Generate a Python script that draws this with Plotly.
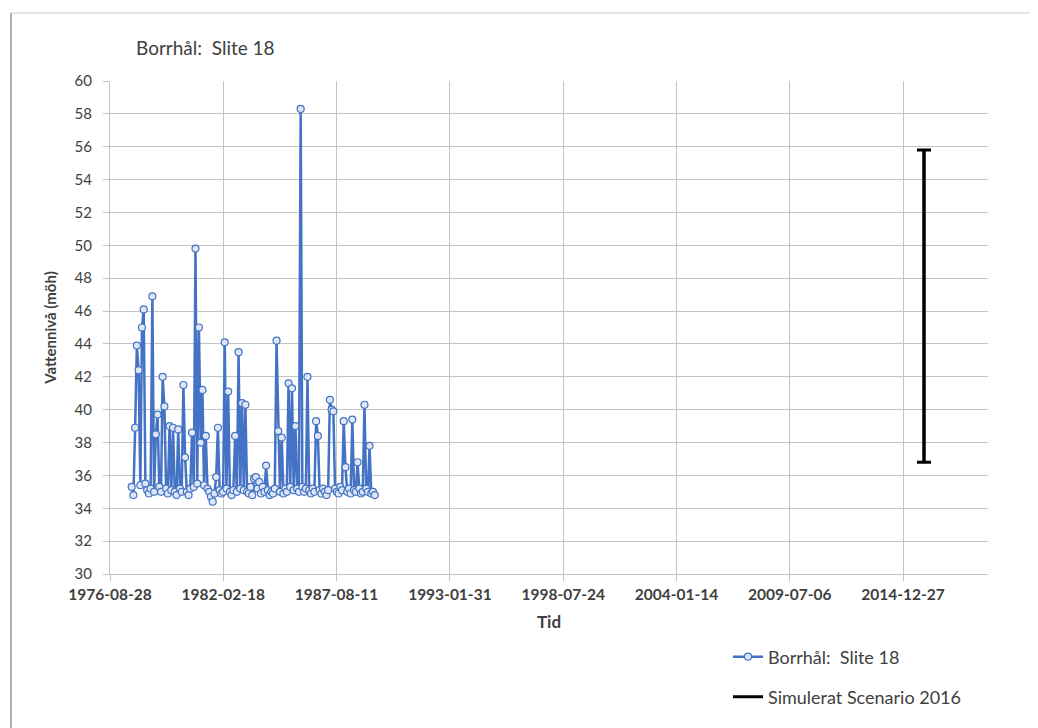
import plotly.graph_objects as go

# ---------------- data ----------------
obs_dates = [
    "1977-09-15", "1977-10-15", "1977-11-15", "1977-12-15",
    "1978-01-15", "1978-02-15", "1978-03-15", "1978-04-15", "1978-05-15", "1978-06-15",
    "1978-07-15", "1978-08-15", "1978-09-15", "1978-10-15", "1978-11-15", "1978-12-15",
    "1979-01-15", "1979-02-15", "1979-03-15", "1979-04-15", "1979-05-15", "1979-06-15",
    "1979-07-15", "1979-08-15", "1979-09-15", "1979-10-15", "1979-11-15", "1979-12-15",
    "1980-01-15", "1980-02-15", "1980-03-15", "1980-04-15", "1980-05-15", "1980-06-15",
    "1980-07-15", "1980-08-15", "1980-09-15", "1980-10-15", "1980-11-15", "1980-12-15",
    "1981-01-15", "1981-02-15", "1981-03-15", "1981-04-15", "1981-05-15", "1981-06-15",
    "1981-07-15", "1981-08-15", "1981-09-15", "1981-10-15", "1981-11-15", "1981-12-15",
    "1982-01-15", "1982-02-15", "1982-03-15", "1982-04-15", "1982-05-15", "1982-06-15",
    "1982-07-15", "1982-08-15", "1982-09-15", "1982-10-15", "1982-11-15", "1982-12-15",
    "1983-01-15", "1983-02-15", "1983-03-15", "1983-04-15", "1983-05-15", "1983-06-15",
    "1983-07-15", "1983-08-15", "1983-09-15", "1983-10-15", "1983-11-15", "1983-12-15",
    "1984-01-15", "1984-02-15", "1984-03-15", "1984-04-15", "1984-05-15", "1984-06-15",
    "1984-07-15", "1984-08-15", "1984-09-15", "1984-10-15", "1984-11-15", "1984-12-15",
    "1985-01-15", "1985-02-15", "1985-03-15", "1985-04-15", "1985-05-15", "1985-06-15",
    "1985-07-15", "1985-08-15", "1985-09-15", "1985-10-15", "1985-11-15", "1985-12-15",
    "1986-01-15", "1986-02-15", "1986-03-15", "1986-04-15", "1986-05-15", "1986-06-15",
    "1986-07-15", "1986-08-15", "1986-09-15", "1986-10-15", "1986-11-15", "1986-12-15",
    "1987-01-15", "1987-02-15", "1987-03-15", "1987-04-15", "1987-05-15", "1987-06-15",
    "1987-07-15", "1987-08-15", "1987-09-15", "1987-10-15", "1987-11-15", "1987-12-15",
    "1988-01-15", "1988-02-15", "1988-03-15", "1988-04-15", "1988-05-15", "1988-06-15",
    "1988-07-15", "1988-08-15", "1988-09-15", "1988-10-15", "1988-11-15", "1988-12-15",
    "1989-01-15", "1989-02-15", "1989-03-15", "1989-04-15", "1989-05-15", "1989-06-15",
]
obs_levels = [
    35.3, 34.8, 38.9, 43.9,
    42.4, 35.4, 45.0, 46.1, 35.5, 35.1,
    34.9, 35.2, 46.9, 35.0, 38.5, 39.7,
    35.3, 35.0, 42.0, 40.2, 35.2, 34.9,
    39.0, 35.1, 38.9, 35.0, 34.8, 38.8,
    35.2, 35.0, 41.5, 37.1, 35.0, 34.8,
    35.2, 38.6, 35.3, 49.8, 35.5, 45.0,
    38.0, 41.2, 35.4, 38.4, 35.2, 35.0,
    34.7, 34.4, 34.9, 35.9, 38.9, 35.1,
    34.9, 35.0, 44.1, 35.2, 41.1, 35.0,
    34.8, 35.1, 38.4, 35.0, 43.5, 35.2,
    40.4, 35.1, 40.3, 35.0, 34.9, 35.3,
    34.8, 35.8, 35.9, 35.2, 35.6, 34.9,
    35.3, 35.0, 36.6, 35.1, 34.8, 35.0,
    34.9, 35.2, 44.2, 38.7, 35.0, 38.3,
    34.9, 35.2, 35.0, 41.6, 35.3, 41.3,
    35.1, 39.0, 35.2, 35.0, 58.3, 35.3,
    35.0, 35.2, 42.0, 35.1, 34.9, 35.2,
    35.0, 39.3, 38.4, 35.1, 34.9, 35.2,
    35.0, 34.8, 35.1, 40.6, 40.0, 39.9,
    35.2, 35.0, 34.9, 35.3, 35.1, 39.3,
    36.5, 35.0, 35.2, 34.9, 39.4, 35.1,
    35.0, 36.8, 35.2, 34.9, 35.0, 40.3,
    35.2, 35.0, 37.8, 34.9, 35.0, 34.8,
]

sim_date = "2016-01-01"
sim_low = 36.8
sim_high = 55.8

x_tick_dates = ["1976-08-28", "1982-02-18", "1987-08-11", "1993-01-31",
                "1998-07-24", "2004-01-14", "2009-07-06", "2014-12-27"]
x_range = ["1976-08-28", "2019-02-04"]
y_ticks = list(range(30, 61, 2))

series_name = "Borrhål:\u00a0 Slite 18"
sim_name = "Simulerat Scenario 2016"
chart_title = "Borrhål:\u00a0 Slite 18"

# ---------------- layout helpers ----------------
OFF = 8                      # page body margin
W, H = 1030, 720
L, T = 110 - OFF, 81 - OFF
PW, PH = 988 - 110, 574 - 81
R, B = W - L - PW, H - T - PH


def px_x(p):
    return (p - OFF - L) / PW


def px_y(p):
    return (H - B - (p - OFF)) / PH


FONT = "Lato, 'Open Sans', sans-serif"
TXT = "#404040"
GRID = "#c4c4c4"

fig = go.Figure()

fig.add_trace(go.Scatter(
    x=obs_dates, y=obs_levels, mode="lines+markers", name=series_name,
    line=dict(color="#4472C4", width=2.5),
    marker=dict(symbol="circle", size=7, color="#dde6f5",
                line=dict(color="#4472C4", width=1.2)),
    legend="legend",
))

# legend / line for the simulated range
fig.add_trace(go.Scatter(
    x=[sim_date, sim_date], y=[sim_low, sim_high], mode="lines", name=sim_name,
    line=dict(color="black", width=3),
    legend="legend2",
))
# caps of the simulated range
fig.add_trace(go.Scatter(
    x=[sim_date], y=[(sim_low + sim_high) / 2], mode="markers",
    marker=dict(size=1, color="rgba(0,0,0,0)"),
    error_y=dict(type="data", array=[(sim_high - sim_low) / 2], symmetric=True,
                 width=7, thickness=3, color="black"),
    showlegend=False, hoverinfo="skip",
))

fig.update_layout(
    width=W, height=H,
    margin=dict(l=L, r=R, t=T, b=B),
    paper_bgcolor="white", plot_bgcolor="white",
    font=dict(family=FONT, color=TXT, size=14),
    legend=dict(x=px_x(728), y=px_y(657), xanchor="left", yanchor="middle",
                bgcolor="rgba(0,0,0,0)", font=dict(size=18, color=TXT)),
    legend2=dict(x=px_x(728), y=px_y(697), xanchor="left", yanchor="middle",
                 bgcolor="rgba(0,0,0,0)", font=dict(size=18, color=TXT)),
    annotations=[dict(text=chart_title, xref="paper", yref="paper",
                      x=px_x(134), y=px_y(48), xanchor="left", yanchor="middle",
                      showarrow=False, font=dict(size=19, color=TXT))],
    shapes=[
        dict(type="line", xref="paper", yref="paper",
             x0=px_x(11), x1=px_x(1060), y0=px_y(13), y1=px_y(13),
             line=dict(color="#e4e4e4", width=2)),
        dict(type="line", xref="paper", yref="paper",
             x0=px_x(11), x1=px_x(11), y0=px_y(13), y1=px_y(760),
             line=dict(color="#b0b0b0", width=2)),
    ],
)

fig.update_xaxes(
    type="date", range=x_range,
    tickmode="array", tickvals=x_tick_dates, ticktext=x_tick_dates,
    showgrid=True, gridcolor=GRID, gridwidth=1,
    showline=True, linecolor=GRID, linewidth=1,
    ticks="outside", ticklen=6, tickcolor=GRID,
    tickfont=dict(size=15.5, color=TXT, weight="bold"),
    zeroline=False,
    title=dict(text="<b>Tid</b>", font=dict(size=17, color=TXT), standoff=14),
)
fig.update_yaxes(
    range=[30, 60], tickmode="array", tickvals=y_ticks,
    showgrid=True, gridcolor=GRID, gridwidth=1,
    showline=True, linecolor=GRID, linewidth=1,
    ticks="outside", ticklen=6, tickcolor=GRID,
    tickfont=dict(size=15, color=TXT),
    ticklabelstandoff=8,
    zeroline=False,
    title=dict(text="<b>Vattennivå (möh)</b>", font=dict(size=15, color=TXT), standoff=14),
)

fig.write_html("out.html")
